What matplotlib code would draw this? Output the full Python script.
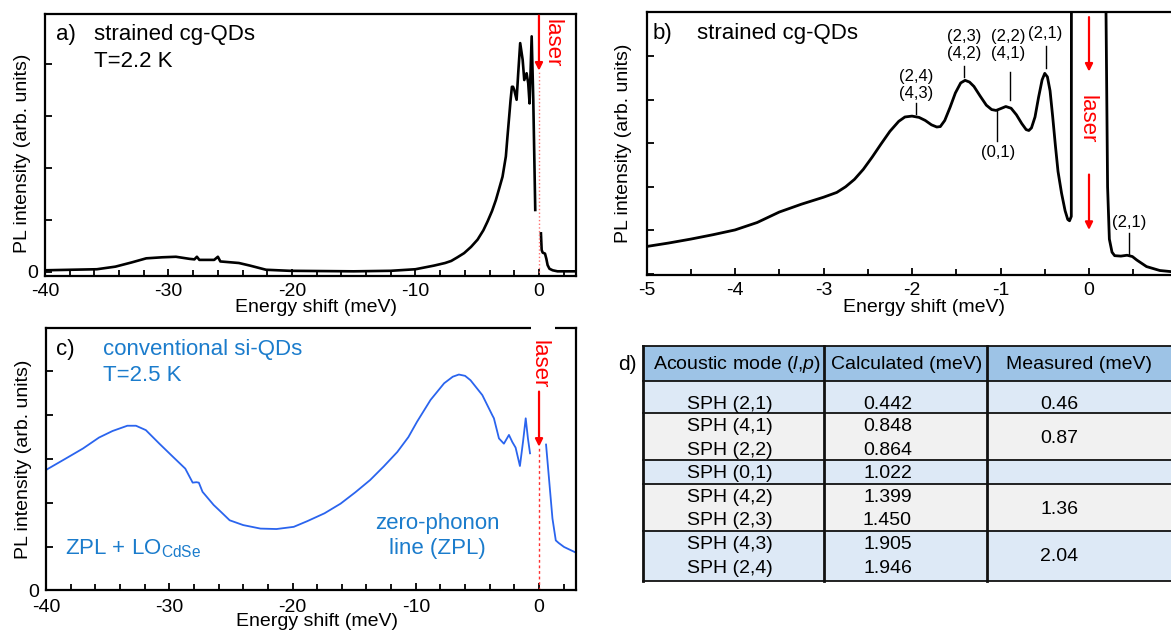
import matplotlib
matplotlib.use('Agg')
import matplotlib.pyplot as plt
from matplotlib.ticker import MultipleLocator, FixedLocator, FixedFormatter
from matplotlib.patches import Rectangle

plt.rcParams['font.family'] = ['Liberation Sans', 'DejaVu Sans']
plt.rcParams['axes.unicode_minus'] = False
plt.rcParams['mathtext.fontset'] = 'custom'
plt.rcParams['mathtext.rm'] = 'Liberation Sans'
plt.rcParams['mathtext.it'] = 'Liberation Sans:italic'

# ---------------- data ----------------
# panel a (strained cg-QDs, T=2.2 K), below and above the laser
a_energy_lo = [-40, -35.8, -34.3, -33.0, -31.8, -30.5, -29.4, -28.3, -27.9, -27.7, -27.5,
               -26.3, -26.1, -26.0, -25.8, -24.3, -23.4, -22.1, -20.2, -15, -12, -10,
               -8.5, -7.6, -7.1, -6.6, -6.06, -5.5, -4.97, -4.5, -4.16, -3.8, -3.49,
               -3.2, -2.95, -2.68, -2.55, -2.41, -2.3, -2.19, -2.1, -2.0,
               -1.81, -1.68, -1.52, -1.32, -1.19, -1.0, -0.87, -0.76, -0.59, -0.46, -0.30]
a_int_lo = [0.03, 0.05, 0.10, 0.18, 0.26, 0.28, 0.29, 0.25, 0.24, 0.29, 0.23,
            0.23, 0.27, 0.29, 0.20, 0.17, 0.12, 0.04, 0.02, 0.01, 0.02, 0.05,
            0.12, 0.17, 0.21, 0.28, 0.36, 0.48, 0.62, 0.80, 0.97, 1.17, 1.38,
            1.62, 1.83, 2.22, 2.60, 2.99, 3.30, 3.56, 3.56, 3.50,
            3.31, 3.82, 4.40, 4.08, 3.69, 3.82, 3.63, 3.24, 4.53, 3.31, 1.19]
a_energy_hi = [0.16, 0.22, 0.30, 0.49, 0.60, 0.70, 0.85, 1.11, 1.5, 3.0]
a_int_hi = [0.74, 0.42, 0.37, 0.35, 0.25, 0.13, 0.06, 0.03, 0.01, 0.01]

# panel b (zoom around the laser)
b_energy = [-5.0, -4.75, -4.5, -4.25, -4.0, -3.75, -3.5, -3.25, -3.0, -2.85, -2.75, -2.65,
            -2.55, -2.45, -2.35, -2.25, -2.15, -2.08, -2.0, -1.92, -1.85, -1.78, -1.72,
            -1.68, -1.63, -1.57, -1.51, -1.45, -1.40, -1.35, -1.30, -1.23, -1.16, -1.10,
            -1.05, -1.0, -0.94, -0.88, -0.82, -0.76, -0.71, -0.68, -0.65, -0.61, -0.57,
            -0.53, -0.50, -0.47, -0.44, -0.41, -0.38, -0.35, -0.31, -0.27, -0.24, -0.22,
            -0.20, -0.195, 0.185, 0.19, 0.21, 0.23, 0.26, 0.29, 0.36, 0.43, 0.49, 0.54,
            0.65, 0.8, 1.0]
b_int = [0.63, 0.71, 0.80, 0.90, 1.01, 1.18, 1.42, 1.60, 1.76, 1.87, 2.00, 2.17,
         2.40, 2.68, 2.98, 3.27, 3.50, 3.60, 3.62, 3.59, 3.52, 3.42, 3.37,
         3.38, 3.52, 3.82, 4.15, 4.38, 4.44, 4.40, 4.30, 4.08, 3.87, 3.77,
         3.75, 3.79, 3.84, 3.80, 3.65, 3.45, 3.31, 3.29, 3.35, 3.60, 4.05,
         4.45, 4.60, 4.52, 4.20, 3.60, 2.95, 2.35, 1.85, 1.45, 1.25, 1.22,
         1.32, 20, 20, 6.5, 2.0, 0.8, 0.5, 0.42, 0.41, 0.43, 0.40, 0.32,
         0.17, 0.08, 0.04]
b_xticks = [-5, -4, -3, -2, -1, 0]
b_labels = ["(2,4)\n(4,3)", "(2,3)\n(4,2)", "(2,2)\n(4,1)", "(2,1)", "(0,1)", "(2,1)"]
b_label_x = [-1.95, -1.41, -0.91, -0.49, -1.03, 0.45]

# panel c (conventional si-QDs, T=2.5 K)
c_energy_lo = [-40, -38.4, -37.0, -35.7, -34.6, -33.4, -32.7, -31.9, -30.8, -29.7, -28.7,
               -28.1, -27.8, -27.6, -27.3, -26.4, -25.8, -25.1, -24.0, -22.6, -21.3, -19.9,
               -18.8, -17.4, -16.1, -14.9, -13.7, -12.6, -11.5, -10.6, -9.9, -8.8, -7.7,
               -7.0, -6.5, -6.0, -5.56, -4.6, -3.79,
               -3.66, -3.25, -2.85, -2.44, -2.17, -1.90, -1.55, -1.30, -1.08, -0.9, -0.73]
c_int_lo = [2.75, 3.01, 3.24, 3.49, 3.64, 3.76, 3.76, 3.66, 3.35, 3.05, 2.78,
            2.46, 2.47, 2.46, 2.25, 1.95, 1.79, 1.60, 1.49, 1.41, 1.40, 1.45,
            1.58, 1.76, 1.98, 2.24, 2.52, 2.83, 3.16, 3.50, 3.85, 4.35, 4.73,
            4.88, 4.93, 4.90, 4.80, 4.46, 4.00,
            3.93, 3.47, 3.35, 3.55, 3.39, 3.26, 2.84, 3.39, 3.93, 3.47, 3.13]
c_energy_hi = [0.57, 0.81, 1.09, 1.36, 1.6, 2.03, 3.0]
c_int_hi = [3.33, 2.55, 1.64, 1.14, 1.08, 0.99, 0.86]

# panel d table
tbl_header = [r'Acoustic mode ($l$,$p$)', 'Calculated (meV)', 'Measured (meV)']
tbl_modes = ["SPH (2,1)", "SPH (4,1)", "SPH (2,2)", "SPH (0,1)", "SPH (4,2)",
             "SPH (2,3)", "SPH (4,3)", "SPH (2,4)"]
tbl_calc = ["0.442", "0.848", "0.864", "1.022", "1.399", "1.450", "1.905", "1.946"]
tbl_groups = [[0], [1, 2], [3], [4, 5], [6, 7]]
tbl_measured = ["0.46", "0.87", "", "1.36", "2.04"]

# ---------------- figure ----------------
W, H = 1171, 632
fig = plt.figure(figsize=(W / 100, H / 100), dpi=100)


def rect(l, t, r, b):
    return [l / W, 1 - b / H, (r - l) / W, (b - t) / H]


def fx(x):
    return x / W


def fy(y):
    return 1 - y / H


BLUE_LINE = '#2a64ee'
BLUE_TXT = '#1b7ccc'
RED = '#ff0000'
FS_TICK = 14
FS_LAB = 14
FS_TXT = 16

# table layer (pixel coordinates)
axt = fig.add_axes([0, 0, 1, 1])
axt.set_xlim(0, W)
axt.set_ylim(H, 0)
axt.axis('off')
row_edges = [346.3, 381.3, 412.7, 459.7, 483.7, 531.0, 580.7]
col_edges = [642.6, 824.0, 986.7, 1180.0]
fills = ['#9dc3e6', '#dde9f6', '#f1f1f1', '#dde9f6', '#f1f1f1', '#dde9f6']
for i in range(len(row_edges) - 1):
    axt.add_patch(Rectangle((col_edges[0], row_edges[i]), col_edges[-1] - col_edges[0],
                            row_edges[i + 1] - row_edges[i], facecolor=fills[i],
                            edgecolor='none', zorder=1))
for y in row_edges:
    axt.plot([col_edges[0], col_edges[-1]], [y, y], color='#111111', lw=1.3, zorder=2)
for x in col_edges[:-1]:
    axt.plot([x, x], [row_edges[0], row_edges[-1]], color='#111111', lw=2.0, zorder=2)
hdr_x = [736.5, 906.6, 1079]
for x, t in zip(hdr_x, tbl_header):
    axt.text(x, 364.5, t, ha='center', va='center', fontsize=14, zorder=3)
line_base = [408.7, 431.3, 454.7, 478.0, 502.0, 525.3, 549.3, 572.7]
for m, c, yb in zip(tbl_modes, tbl_calc, line_base):
    axt.text(729.7, yb, m, ha='center', va='baseline', fontsize=14, zorder=3)
    axt.text(887.5, yb, c, ha='center', va='baseline', fontsize=14, zorder=3)
for g, meas in zip(tbl_groups, tbl_measured):
    yb = sum(line_base[k] for k in g) / len(g)
    axt.text(1059, yb, meas, ha='center', va='baseline', fontsize=14, zorder=3)
axt.text(627, 364.5, 'd)', ha='center', va='center', fontsize=15)


def style(ax, xmaj, xmin, yticks, ylabels):
    for s in ax.spines.values():
        s.set_linewidth(1.6)
    ax.xaxis.set_major_locator(MultipleLocator(xmaj))
    ax.xaxis.set_minor_locator(MultipleLocator(xmin))
    ax.yaxis.set_major_locator(FixedLocator(yticks))
    ax.yaxis.set_major_formatter(FixedFormatter(ylabels))
    ax.yaxis.set_minor_locator(FixedLocator([]))
    ax.tick_params(which='both', direction='in', width=1.3, labelsize=FS_TICK,
                   top=False, right=False)
    ax.tick_params(which='major', length=5, pad=5)
    ax.tick_params(which='minor', length=4.5)
    ax.set_xlabel('Energy shift (meV)', fontsize=FS_LAB)
    ax.set_ylabel('PL intensity (arb. units)', fontsize=FS_LAB)


# ---- panel a ----
axa = fig.add_axes(rect(45, 14, 576, 276))
axa.plot(a_energy_lo, a_int_lo, color='black', lw=1.9, solid_joinstyle='round')
axa.plot(a_energy_hi, a_int_hi, color='black', lw=1.9, solid_joinstyle='round')
axa.set_xlim(-40, 3)
axa.set_ylim(-0.08, 4.96)
style(axa, 10, 2, [0, 1, 2, 3, 4], ['0', '', '', '', ''])
axa.xaxis.set_label_coords(0.51, -0.088)
axa.yaxis.set_label_coords(-0.027, 0.47)
axa.plot([0, 0], [-0.08, 3.87], color='#ff7070', lw=1.0, ls=':')
axa.annotate('', xy=(0, 3.87), xytext=(0, 4.93),
             arrowprops=dict(arrowstyle='-|>', color=RED, lw=1.6, mutation_scale=11,
                             shrinkA=0, shrinkB=0))
fig.text(fx(551.5), fy(43.5), 'laser', color=RED, rotation=-90, ha='center', va='center',
         fontsize=FS_TXT)
fig.text(fx(56), fy(40), 'a)', fontsize=FS_TXT, va='baseline')
fig.text(fx(94), fy(40), 'strained cg-QDs', fontsize=FS_TXT, va='baseline')
fig.text(fx(94), fy(67), 'T=2.2 K', fontsize=FS_TXT, va='baseline')

# ---- panel b ----
axb = fig.add_axes(rect(646.5, 12.3, 1177.5, 275.3))
axb.plot(b_energy, b_int, color='black', lw=2.0, solid_joinstyle='round')
axb.set_xlim(-5, 1)
axb.set_ylim(-0.03, 6.0)
style(axb, 1, 0.5, [0, 1, 2, 3, 4, 5], ['', '', '', '', '', ''])
axb.xaxis.set_major_locator(FixedLocator(b_xticks))
axb.spines['right'].set_visible(False)
axb.xaxis.set_label_coords(0.522, -0.091)
axb.yaxis.set_label_coords(-0.028, 0.5)
# peak labels
lbl_text_y = [4.33, 5.25, 5.25, 5.51, 2.78, 1.18]
lbl_line = [(3.91, 3.66), (4.77, 4.52), (4.62, 4.0), (5.23, 4.73), (3.73, 3.04), (0.94, 0.46)]
lbl_line_x = [-1.95, -1.41, -0.89, -0.49, -1.04, 0.45]
for t, x, y, (y1, y2), lx in zip(b_labels, b_label_x, lbl_text_y, lbl_line, lbl_line_x):
    axb.text(x, y, t, ha='center', va='center', fontsize=12, linespacing=1.15)
    axb.plot([lx, lx], [y1, y2], color='black', lw=1.0)
for (ys, ye) in [(5.89, 4.64), (2.28, 1.01)]:
    axb.annotate('', xy=(0, ye), xytext=(0, ys),
                 arrowprops=dict(arrowstyle='-|>', color=RED, lw=1.6, mutation_scale=11,
                                 shrinkA=0, shrinkB=0))
fig.text(fx(1087), fy(119), 'laser', color=RED, rotation=-90, ha='center', va='center',
         fontsize=FS_TXT)
fig.text(fx(653), fy(39.5), 'b)', fontsize=FS_TXT, va='baseline')
fig.text(fx(697), fy(39.5), 'strained cg-QDs', fontsize=FS_TXT, va='baseline')

# ---- panel c ----
axc = fig.add_axes(rect(46, 327.7, 576, 590.3))
axc.plot(c_energy_lo, c_int_lo, color=BLUE_LINE, lw=1.3)
axc.plot(c_energy_hi, c_int_hi, color=BLUE_LINE, lw=1.3)
axc.set_xlim(-40, 3)
axc.set_ylim(0, 6.0)
style(axc, 10, 2, [0, 1, 2, 3, 4, 5], ['0', '', '', '', '', ''])
axc.tick_params(axis='x', which='major', pad=6)
axc.xaxis.set_label_coords(0.511, -0.088)
axc.yaxis.set_label_coords(-0.027, 0.5)
axc.plot([0, 0], [0, 3.28], color='#ff3030', lw=1.0, ls=(0, (2, 2)))
axc.annotate('', xy=(0, 3.28), xytext=(0, 4.54),
             arrowprops=dict(arrowstyle='-|>', color=RED, lw=1.6, mutation_scale=11,
                             shrinkA=0, shrinkB=0))
axc.add_patch(Rectangle((0.915, 0.97), 0.045, 0.06, transform=axc.transAxes,
                        facecolor='white', edgecolor='none', clip_on=False, zorder=5))
fig.text(fx(539), fy(364), 'laser', color=RED, rotation=-90, ha='center', va='center',
         fontsize=FS_TXT, zorder=6)
fig.text(fx(56), fy(355), 'c)', fontsize=FS_TXT, va='baseline')
fig.text(fx(103), fy(355), 'conventional si-QDs', fontsize=FS_TXT, va='baseline',
         color=BLUE_TXT)
fig.text(fx(103), fy(381), 'T=2.5 K', fontsize=FS_TXT, va='baseline', color=BLUE_TXT)
fig.text(fx(65), fy(554), r'ZPL + LO$_{\mathrm{CdSe}}$', fontsize=FS_TXT, va='baseline',
         color=BLUE_TXT)
fig.text(fx(437), fy(529), 'zero-phonon', fontsize=FS_TXT, va='baseline', ha='center',
         color=BLUE_TXT)
fig.text(fx(437), fy(554), 'line (ZPL)', fontsize=FS_TXT, va='baseline', ha='center',
         color=BLUE_TXT)

fig.savefig('out.png', dpi=100, facecolor='white')
